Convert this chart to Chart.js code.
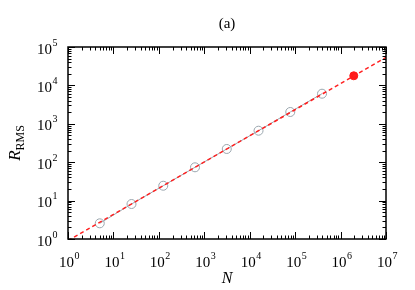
<!DOCTYPE html>
<html>
<head>
<meta charset="utf-8">
<script src="https://cdn.jsdelivr.net/npm/chart.js@4/dist/chart.umd.min.js"></script>
<style>
  html, body { margin: 0; padding: 0; background: #fff; }
</style>
</head>
<body>
<canvas id="graficoRms" width="415" height="290"></canvas>
<script>
// dados
var tamanhosN = [5, 25, 125, 625, 3125, 15625, 78125, 390625];
var valoresR = [2.56, 8.15, 24.4, 73.6, 221, 661, 2030, 6080];
var extraN = [1953125];
var extraR = [17800];
var ajusteN = [1, 1e7];
var ajusteR = [0.91, 53900];
var expoentesX = [0, 1, 2, 3, 4, 5, 6, 7];
var expoentesY = [0, 1, 2, 3, 4, 5];

var fonte = "'Liberation Serif', 'DejaVu Serif', serif";

function pontos(xs, ys) {
    return xs.map(function (x, i) { return { x: x, y: ys[i] }; });
}

function desenhaPotencia(ctx, exp, x, y, alinhamento) {
    ctx.font = "15px " + fonte;
    var w1 = ctx.measureText("10").width;
    ctx.font = "10px " + fonte;
    var w2 = ctx.measureText(String(exp)).width;
    var inicio = alinhamento == "right" ? x - w1 - w2 : x - (w1 + w2) / 2;
    ctx.textAlign = "left";
    ctx.textBaseline = "alphabetic";
    ctx.font = "15px " + fonte;
    ctx.fillText("10", inicio, y);
    ctx.font = "10px " + fonte;
    ctx.fillText(String(exp), inicio + w1 + 0.5, y - 8);
}

var molduraEixos = {
    id: "molduraEixos",
    afterDraw: function (chart) {
        var ctx = chart.ctx;
        var a = chart.chartArea;
        var sx = chart.scales.x;
        var sy = chart.scales.y;
        ctx.save();
        ctx.strokeStyle = "#000";
        ctx.fillStyle = "#000";

        // ticks
        ctx.lineWidth = 1;
        ctx.beginPath();
        expoentesX.forEach(function (e, i) {
            var px = Math.round(sx.getPixelForValue(Math.pow(10, e))) + 0.5;
            ctx.moveTo(px, a.bottom); ctx.lineTo(px, a.bottom - 7);
            ctx.moveTo(px, a.top); ctx.lineTo(px, a.top + 7);
            if (i < expoentesX.length - 1) {
                for (var m = 2; m <= 9; m++) {
                    var q = Math.round(sx.getPixelForValue(m * Math.pow(10, e))) + 0.5;
                    ctx.moveTo(q, a.bottom); ctx.lineTo(q, a.bottom - 3.5);
                    ctx.moveTo(q, a.top); ctx.lineTo(q, a.top + 3.5);
                }
            }
        });
        expoentesY.forEach(function (e, i) {
            var py = Math.round(sy.getPixelForValue(Math.pow(10, e))) + 0.5;
            ctx.moveTo(a.left, py); ctx.lineTo(a.left + 7, py);
            ctx.moveTo(a.right, py); ctx.lineTo(a.right - 7, py);
            if (i < expoentesY.length - 1) {
                for (var m = 2; m <= 9; m++) {
                    var q = Math.round(sy.getPixelForValue(m * Math.pow(10, e))) + 0.5;
                    ctx.moveTo(a.left, q); ctx.lineTo(a.left + 3.5, q);
                    ctx.moveTo(a.right, q); ctx.lineTo(a.right - 3.5, q);
                }
            }
        });
        ctx.stroke();

        // moldura
        ctx.lineWidth = 1.5;
        ctx.strokeRect(a.left, a.top, a.right - a.left, a.bottom - a.top);

        // rotulos
        expoentesX.forEach(function (e) {
            desenhaPotencia(ctx, e, sx.getPixelForValue(Math.pow(10, e)) + 1, a.bottom + 28, "center");
        });
        expoentesY.forEach(function (e) {
            desenhaPotencia(ctx, e, a.left - 11, sy.getPixelForValue(Math.pow(10, e)) + 6.5, "right");
        });

        // titulo e eixos
        ctx.textAlign = "center";
        ctx.font = "15px " + fonte;
        ctx.fillText("(a)", (a.left + a.right) / 2, 28);
        ctx.font = "italic 16px " + fonte;
        ctx.fillText("N", (a.left + a.right) / 2, 283);

        ctx.translate(20, (a.top + a.bottom) / 2);
        ctx.rotate(-Math.PI / 2);
        ctx.font = "italic 17px " + fonte;
        var wR = ctx.measureText("R").width;
        ctx.font = "12px " + fonte;
        var wS = ctx.measureText("RMS").width;
        var ini = -(wR + wS) / 2;
        ctx.textAlign = "left";
        ctx.font = "italic 17px " + fonte;
        ctx.fillText("R", ini, 0);
        ctx.font = "12px " + fonte;
        ctx.fillText("RMS", ini + wR, 4);
        ctx.restore();
    }
};

function criarGrafico() {
    var ctx = document.getElementById("graficoRms").getContext("2d");

    new Chart(ctx, {
        type: "scatter",
        data: {
            datasets: [{
                label: "ajuste",
                data: pontos(ajusteN, ajusteR),
                showLine: true,
                borderColor: "#ff2020",
                borderWidth: 1.5,
                borderDash: [4, 3],
                pointRadius: 0
            }, {
                label: "extrapolado",
                data: pontos(extraN, extraR),
                pointRadius: 4,
                backgroundColor: "#ff1a1a",
                borderColor: "#ff1a1a"
            }, {
                label: "simulacao",
                data: pontos(tamanhosN, valoresR),
                showLine: true,
                borderColor: "#9aa6ae",
                borderWidth: 1,
                pointRadius: 4.5,
                pointBorderWidth: 1,
                pointBackgroundColor: "rgba(0,0,0,0)",
                pointBorderColor: "#9aa6ae"
            }]
        },
        options: {
            responsive: false,
            animation: false,
            layout: {
                padding: { left: 68, right: 29, top: 47, bottom: 51 }
            },
            plugins: {
                legend: { display: false },
                tooltip: { enabled: false }
            },
            scales: {
                x: { type: "logarithmic", display: false, min: 1, max: 1e7 },
                y: { type: "logarithmic", display: false, min: 1, max: 1e5 }
            }
        },
        plugins: [molduraEixos]
    });
}

criarGrafico();
</script>
</body>
</html>
